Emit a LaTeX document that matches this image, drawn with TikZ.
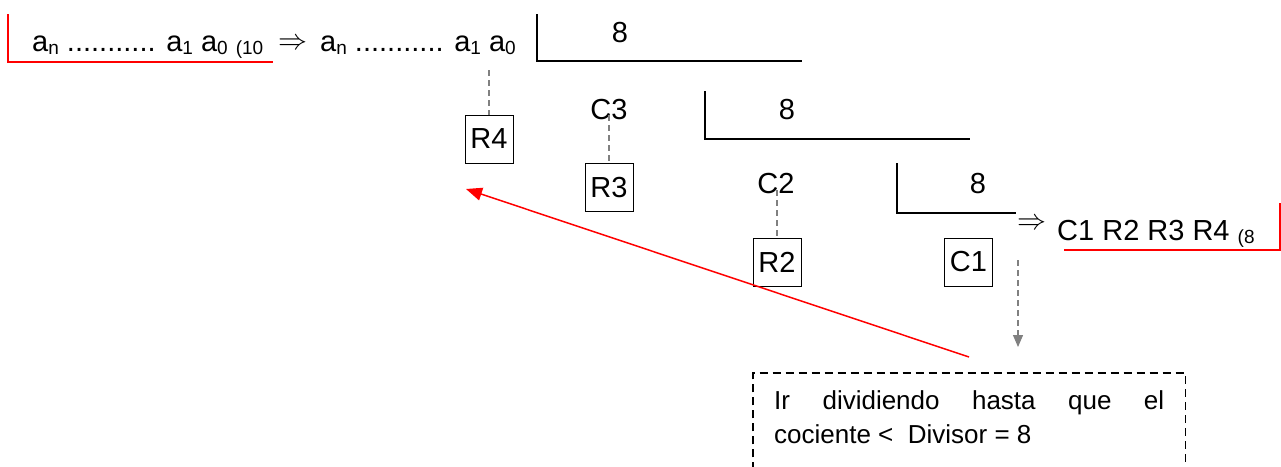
\documentclass[tikz,border=0pt]{standalone}
\usepackage{fontspec}
\setmainfont{Liberation Sans}
\usetikzlibrary{arrows.meta}
\newcommand\subs[1]{\raisebox{-3pt}{\fontsize{19}{19}\selectfont #1}}
\newcommand\impl{\scalebox{2.9}{$\Rightarrow$}}
\begin{document}
\begin{tikzpicture}[x=1pt,y=-1pt,
  txt/.style={inner sep=0pt, font=\fontsize{29}{34}\selectfont},
  rbox/.style={draw, line width=1pt, minimum width=48pt, minimum height=48pt, inner sep=0pt, font=\fontsize{29}{34}\selectfont},
  divline/.style={line width=1.2pt, black},
  redline/.style={line width=1.5pt, red},
  gdash/.style={gray, line width=1.2pt, dash pattern=on 6pt off 4pt},
  notetxt/.style={anchor=base west, inner sep=0pt, font=\fontsize{26}{34}\selectfont},
]
\useasboundingbox (0,0) rectangle (1281,466);

% top line
\node[txt, anchor=base west] (lhs) at (32,51) {a\subs{n} ........... a\subs{1} a\subs{0} \subs{(10}};
\node[inner sep=0pt] (imp1) at (293,44) {\impl};
\node[txt, anchor=base west] (rhs) at (320,51) {a\subs{n} ........... a\subs{1} a\subs{0}};
\draw[redline] (8,14) -- (8,62) -- (273,62);

% divisions
\draw[divline] (537,14) -- (537,61) -- (802,61);
\draw[divline] (705,91) -- (705,139) -- (970,139);
\draw[divline] (897,163) -- (897,213) -- (1016,213);
\node[txt] (d1) at (620,33) {8};
\node[txt] (d2) at (787,110) {8};
\node[txt] (d3) at (978,184) {8};

% quotients and remainders
\node[txt] (C3) at (609,110) {C3};
\node[txt] (C2) at (776,184) {C2};
\node[rbox] (R4) at (489,139) {R4};
\node[rbox] (R3) at (609,187.5) {R3};
\node[rbox] (R2) at (777,262) {R2};
\node[rbox] (C1) at (968.5,262) {C1};

\coordinate (a0) at (489,70);
\draw[gdash] (a0) -- (R4.north);
\draw[gdash, shorten <=5pt] (C3.center) -- (R3.north);
\draw[gdash, shorten <=6pt] (C2.center -| R2.north) -- (R2.north);

% result
\node[inner sep=0pt] (imp2) at (1032,224) {\impl};
\node[txt, anchor=base west] (res) at (1057,240) {C1 R2 R3 R4 \subs{(8}};
\draw[redline] (1280,203) -- (1280,250) -- (1064,250);

% note box
\node[minimum width=432pt, minimum height=110pt, anchor=north west, inner sep=0pt] (box) at (753,373) {};
\draw[black, line width=1.2pt, dash pattern=on 8pt off 5pt] (box.south west) -- (box.north west) -- (box.north east) -- (box.south east);
\node[notetxt] (l1) at (774,409) {\makebox[390pt][s]{Ir\hfill dividiendo\hfill hasta\hfill que\hfill el}};
\node[notetxt] (l2) at (774,443) {cociente <\ \ Divisor = 8};

% arrows
\coordinate (g1) at (1018,260);
\coordinate (g2) at (1018,347);
\draw[gdash, -{Triangle[width=10pt,length=12pt]}] (g1) -- (g2);
\coordinate (rt) at (969,357);
\coordinate (rh) at (466,189);
\draw[redline, -{Triangle[width=13pt,length=16pt]}] (rt) -- (rh);
\end{tikzpicture}
\end{document}
